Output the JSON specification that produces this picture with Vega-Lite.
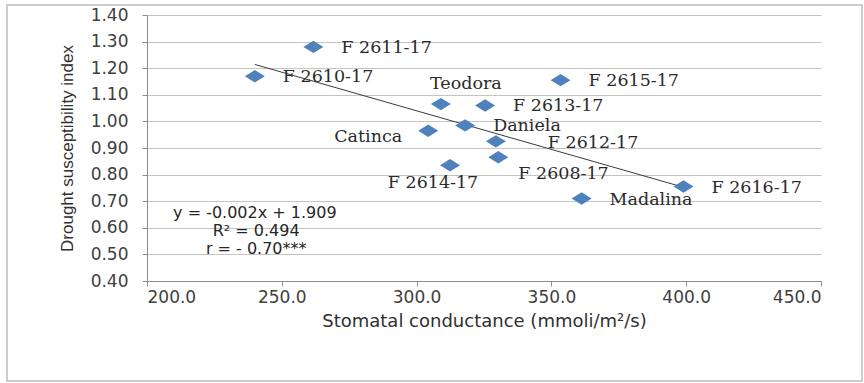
{
  "$schema": "https://vega.github.io/schema/vega-lite/v6.json",
  "width": 855,
  "height": 376,
  "autosize": {"type": "none"},
  "padding": {"left": 7, "top": 5, "right": 2, "bottom": 2},
  "background": "white",
  "config": {"view": {"stroke": "#bdbdbd", "strokeWidth": 1.5}},
  "datasets": {
    "pts": [
      {"label": "F 2610-17", "x": 240.0, "y": 1.17},
      {"label": "F 2611-17", "x": 261.7, "y": 1.28},
      {"label": "Teodora", "x": 309.0, "y": 1.065},
      {"label": "F 2613-17", "x": 325.4, "y": 1.06},
      {"label": "Daniela", "x": 318.0, "y": 0.985},
      {"label": "Catinca", "x": 304.3, "y": 0.965},
      {"label": "F 2612-17", "x": 329.4, "y": 0.925},
      {"label": "F 2608-17", "x": 330.3, "y": 0.865},
      {"label": "F 2614-17", "x": 312.4, "y": 0.835},
      {"label": "F 2615-17", "x": 353.4, "y": 1.155},
      {"label": "Madalina", "x": 361.2, "y": 0.71},
      {"label": "F 2616-17", "x": 399.0, "y": 0.755}
    ],
    "notes": [
      {"text": "y = -0.002x + 1.909", "x": 240.0, "y": 0.657},
      {"text": "R² = 0.494", "x": 240.5, "y": 0.588},
      {"text": "r = - 0.70***", "x": 240.5, "y": 0.519}
    ]
  },
  "data": {"name": "pts"},
  "encoding": {
    "x": {
      "field": "x",
      "type": "quantitative",
      "scale": {"domain": [200, 450], "range": [140, 814], "nice": false, "zero": false},
      "axis": {
        "title": "Stomatal conductance (mmoli/m²/s)",
        "values": [200, 250, 300, 350, 400, 450],
        "format": ".1f",
        "grid": false,
        "offset": -100,
        "domainColor": "#8c8c8c",
        "tickColor": "#8c8c8c",
        "tickSize": 5,
        "labelPadding": 3,
        "labelFont": "DejaVu Sans",
        "labelFontSize": 17,
        "labelColor": "#404040",
        "titleFont": "DejaVu Sans",
        "titleFontSize": 18,
        "titleFontWeight": "normal",
        "titleColor": "#303030",
        "titlePadding": 7
      }
    },
    "y": {
      "field": "y",
      "type": "quantitative",
      "scale": {"domain": [0.4, 1.4], "range": [276, 10], "nice": false, "zero": false},
      "axis": {
        "title": "Drought susceptibility index",
        "values": [0.4, 0.5, 0.6, 0.7, 0.8, 0.9, 1.0, 1.1, 1.2, 1.3, 1.4],
        "format": ".2f",
        "grid": true,
        "gridColor": "#c4c4c4",
        "offset": -140,
        "domainColor": "#8c8c8c",
        "tickColor": "#8c8c8c",
        "tickSize": 5,
        "labelPadding": 14,
        "labelFont": "DejaVu Sans",
        "labelFontSize": 17,
        "labelColor": "#404040",
        "titleFont": "Liberation Sans",
        "titleFontSize": 17,
        "titleFontWeight": "normal",
        "titleColor": "#303030",
        "titlePadding": 14
      }
    }
  },
  "layer": [
    {
      "transform": [{"regression": "y", "on": "x"}],
      "mark": {"type": "line", "color": "#3a3a3a", "strokeWidth": 1}
    },
    {
      "mark": {"type": "point", "shape": "M-1,0L0,-0.62L1,0L0,0.62Z", "filled": true, "color": "#4F81BD", "opacity": 1, "size": 400}
    },
    {
      "transform": [{"filter": {"field": "label", "oneOf": ["F 2610-17", "F 2611-17", "F 2613-17", "Daniela", "F 2615-17", "Madalina", "F 2616-17"]}}],
      "mark": {"type": "text", "font": "DejaVu Serif", "fontSize": 17.5, "color": "#2a2a2a", "align": "left", "baseline": "middle", "dx": 28, "dy": 1},
      "encoding": {"text": {"field": "label"}}
    },
    {
      "transform": [{"filter": {"field": "label", "equal": "Teodora"}}],
      "mark": {"type": "text", "font": "DejaVu Serif", "fontSize": 17.5, "color": "#2a2a2a", "align": "center", "baseline": "middle", "dx": 25, "dy": -20},
      "encoding": {"text": {"field": "label"}}
    },
    {
      "transform": [{"filter": {"field": "label", "equal": "Catinca"}}],
      "mark": {"type": "text", "font": "DejaVu Serif", "fontSize": 17.5, "color": "#2a2a2a", "align": "right", "baseline": "middle", "dx": -26, "dy": 6},
      "encoding": {"text": {"field": "label"}}
    },
    {
      "transform": [{"filter": {"field": "label", "equal": "F 2612-17"}}],
      "mark": {"type": "text", "font": "DejaVu Serif", "fontSize": 17.5, "color": "#2a2a2a", "align": "left", "baseline": "middle", "dx": 52, "dy": 2},
      "encoding": {"text": {"field": "label"}}
    },
    {
      "transform": [{"filter": {"field": "label", "equal": "F 2608-17"}}],
      "mark": {"type": "text", "font": "DejaVu Serif", "fontSize": 17.5, "color": "#2a2a2a", "align": "left", "baseline": "middle", "dx": 20, "dy": 17},
      "encoding": {"text": {"field": "label"}}
    },
    {
      "transform": [{"filter": {"field": "label", "equal": "F 2614-17"}}],
      "mark": {"type": "text", "font": "DejaVu Serif", "fontSize": 17.5, "color": "#2a2a2a", "align": "center", "baseline": "middle", "dx": -17, "dy": 18},
      "encoding": {"text": {"field": "label"}}
    },
    {
      "data": {"name": "notes"},
      "mark": {"type": "text", "font": "DejaVu Sans", "fontSize": 16, "color": "#262626", "align": "center", "baseline": "middle"},
      "encoding": {"text": {"field": "text"}}
    }
  ]
}
